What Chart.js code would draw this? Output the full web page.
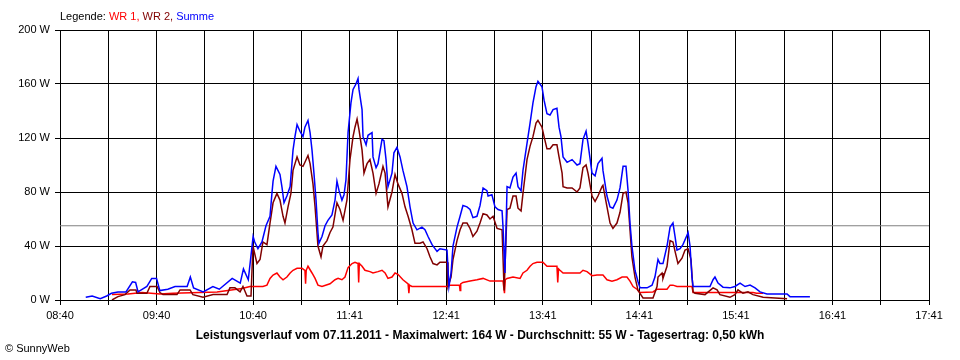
<!DOCTYPE html>
<html>
<head>
<meta charset="utf-8">
<script src="https://cdn.jsdelivr.net/npm/chart.js@4"></script>
<style>
  body { margin: 0; background: #fff; }
  #wrap { width: 960px; height: 360px; }
</style>
</head>
<body>
<div id="wrap"><canvas id="powerChart"></canvas></div>
<script>
// x = Minuten ab 08:40, y = Watt
const timeLabels = ['08:40', '09:40', '10:40', '11:41', '12:41', '13:41', '14:41', '15:41', '16:41', '17:41'];
const averageW = 55;

const summe = [
  [16,2],[20,3],[25,1],[29,3],[32,5],[36,6],[41,6],[45,13.5],[47,13],[48.5,6],[54,10],[57,16],[60,16],[62,7],
  [67,8],[71.5,10],[79,10],[81,17],[83,9],[89,6],[95,10],[99,8],[107,16],[112,12.5],[114,23],[117,15],
  [120,47],[121,43],[123,38],[125.5,43],[128,55],[130.5,62],[131.7,79],[132.4,88],[134.2,99],[136.7,93],
  [138,83],[139.2,72],[141,77],[143,84],[144.8,111],[146,121],[147.3,130],[149.1,125],[151,121],[152.2,128],
  [154.1,133],[155.4,124],[156.6,111],[157.8,94],[159.1,74],[160.3,50],[160.9,42],[162.8,47],[164.7,55],
  [166.5,59],[169,63],[170.9,74],[172.1,88],[173.4,81],[175.2,74],[176.5,78],[177.7,89],[179,124],[180.8,146],
  [182.1,156],[183.9,160],[185.2,164],[185.8,156],[187.7,141],[188.3,121],[190.2,115],[191.4,122],[193.9,124],
  [194.5,106],[196.4,98],[197.6,101],[200.1,119],[201.3,118],[202.6,104],[203.8,84],[206.3,94],[207.5,109],
  [209.4,113],[211.3,106],[213.1,96],[215.6,84],[217.5,69],[219.4,57],[221.8,52],[224.9,54],[226.8,52],
  [228.7,47],[231.2,41],[234.3,36],[236.1,38],[240.5,37],[241.7,10],[243,20],[244.2,40],[246.7,54],[248.6,62],
  [250.4,70],[252.9,69],[254.8,67],[256.6,61],[259.1,62],[261,70],[262.9,83],[265.3,81],[266,77],[268.4,78],
  [270.3,69],[272.2,67],[274.7,66],[275.3,54],[276.5,20],[277.8,84],[279.6,83],[281.5,91],[283.4,94],
  [284.6,84],[286.5,81],[287.7,96],[290.2,116],[292.1,131],[293.9,146],[295.8,158],[297,162],[299.5,158],
  [300.8,148],[302.6,138],[304.5,137],[306.4,141],[308.8,142],[310.1,128],[311.3,121],[312.6,106],[315.1,102],
  [318.2,104],[321.3,100],[323.1,101],[325,119],[326.9,125],[328.1,116],[330.6,94],[332.5,92],[334.3,101],
  [336.8,105],[337.4,96],[339.9,77],[341.8,69],[343.6,68],[346.1,74],[348,83],[349.9,99],[351.7,99],[353,81],
  [354.2,57],[355.4,40],[357.3,22],[359.2,13.5],[360.4,9],[364.8,9],[367.9,11],[369.7,17],[371.6,30],
  [372.8,27],[374.7,27],[377.2,40],[379.1,54],[380.9,57],[382.2,47],[383.4,37],[385.3,38],[387.1,41],
  [389.6,48],[390.3,50],[391.5,40],[392.7,17],[393.4,10],[403.9,10],[405.8,15],[407,17],[408.9,12.5],
  [412,9.5],[416.3,9],[419.4,10],[422.6,12.5],[425.7,10],[428.8,11],[431.9,9],[435,6],[439.3,4.5],
  [451.8,4.5],[453.6,2.5],[466,2.5]
];

const wr2 = [
  [32.3,0],[36,2.5],[40.4,4],[43.5,7.5],[47.2,7.5],[47.8,5],[54,5],[55.9,10],[60.3,10],[62.1,5.5],[64,4],
  [72.7,4],[74.6,7.5],[80.8,7.5],[82.6,4],[88.9,2],[95.1,4],[103.8,4],[105.6,9],[108.7,9],[111.9,6],
  [113.7,10],[116.2,3],[118.7,3],[119.9,40],[122.4,27],[124.3,30],[126.1,43],[128.6,41],[130.5,57],
  [132.4,72],[134.8,79],[136.7,74],[138.6,62],[139.8,57],[141.7,69],[143.5,79],[144.8,96],[147.3,106],
  [149.1,100],[151,99],[152.2,102],[154.1,107],[155.4,101],[157.2,86],[158.5,69],[160.3,40],[162.2,32],
  [163.4,40],[165.9,44],[167.8,50],[169.6,54],[172.1,72],[174,67],[175.9,59],[178.3,74],[180.2,104],
  [182.1,121],[183.3,128],[184.6,134],[185.8,126],[187.7,111],[188.9,94],[190.8,101],[192.6,104],[194.5,94],
  [196.4,79],[198.2,86],[200.7,99],[202,94],[203.8,69],[206.3,80],[208.2,93],[210,86],[212.5,79],[214.4,69],
  [216.3,62],[218.7,52],[220.6,42],[223.7,42],[225.6,43],[228.1,38],[229.9,32],[231.8,27],[234.3,26],
  [236.1,28],[240.5,28],[241.1,10],[243,17],[244.2,30],[246.7,44],[248.6,52],[250.4,57],[252.9,57],
  [254.8,53],[256.6,47],[259.1,51],[261,57],[262.9,64],[265.3,63],[267.2,60],[269.1,62],[271.6,53],
  [274.7,52],[276,7],[277.8,67],[279.6,68],[281.5,77],[283.4,77],[284.6,68],[286.5,66],[287.7,79],
  [290.2,104],[292.1,114],[293.9,121],[295.8,131],[297,133],[299.5,128],[300.8,121],[302.6,112],[304.5,112],
  [306.4,115],[308.8,115],[310.1,106],[312,94],[312.6,84],[315.1,83],[318.2,83],[321.3,80],[323.1,83],
  [325,98],[326.9,100],[328.1,94],[330.6,77],[332.5,73],[334.3,77],[336.8,84],[337.4,85],[339.9,69],
  [341.8,57],[343.6,53],[346.1,57],[348,65],[349.9,79],[351.7,80],[353,72],[354.2,52],[355.4,32],[357.3,17],
  [359.2,7],[362.3,1.5],[368.5,1.5],[371,10],[371.6,17],[374.1,20],[374.7,16],[377.2,25],[379.1,44],
  [380.9,43],[382.2,36],[384,27],[386.5,31],[388.4,37],[390.3,38],[392.1,30],[393.4,6],[394.6,5],[400.8,4],
  [405.8,9],[408.3,7.5],[410.1,4],[416.3,2],[419.4,4],[421.3,7.5],[424.4,5],[427.5,6],[430.6,4],[436.9,2],
  [451.8,1]
];

const wr1 = [
  [32.3,4],[42.3,4.5],[51,5.5],[62.1,4.5],[70.2,5],[97.6,6],[113.1,8.5],[118.1,10],[126.1,10],[128.6,11],
  [130.5,16],[132.4,18.5],[134.8,20],[136.7,17],[138.6,15],[141,17],[143,20],[144.8,22],[147.3,23.5],
  [150.4,23.5],[152.2,22],[152.6,12],[153,22],[154.1,25],[156.6,20],[158.5,16],[160.3,11],[162.8,10],
  [167.8,12],[170.9,15],[172.8,16],[175.2,15],[177.1,17],[179,24],[181.5,27],[183.3,28],[185.2,27],
  [185.6,13],[186,27],[187.7,25],[189.5,22],[192.6,21],[194.5,20],[197.6,21],[200.1,22],[202,20],
  [203.8,16],[206.3,17],[208.2,20],[210,19],[213.1,15],[216.3,12],[216.8,5],[217.2,11],[218.7,10],
  [240.5,10],[242.4,11],[248.2,11],[248.6,7],[249,12],[250.4,13],[254.8,14],[259.1,15],[262.9,16],
  [267.2,14],[275.3,14],[276.2,5],[276.7,15],[277.8,16],[281.5,17],[285.9,16],[287.7,20],[290.2,22],
  [292.1,25],[293.9,27],[296.4,28],[300.1,28],[302.6,25],[308.8,25],[309.3,13],[309.8,23],[310.7,22],
  [312.6,20],[323.1,20],[325,22],[327.5,21],[330.6,18],[333.7,18.5],[337.4,18.5],[339.9,15],[343,14],
  [346.1,15],[349.3,17],[352.3,17],[354.2,14],[356.1,10],[358.5,8],[360.4,5.5],[368.5,6],[371,8],
  [377.2,8],[379.1,11],[380.9,11],[383.4,10],[392.7,10],[393.4,5.5],[430.6,5.5],[432.9,5],[436.9,5]
];

const legendParts = [['Legende: ', '#000000'], ['WR 1, ', '#ff0000'], ['WR 2, ', '#800000'], ['Summe', '#0000ff']];
const titleText = 'Leistungsverlauf vom 07.11.2011 - Maximalwert: 164 W - Durchschnitt: 55 W - Tagesertrag: 0,50 kWh';
const copyText = '\u00a9 SunnyWeb';

function toXY(list) {
  return list.map(p => ({ x: p[0], y: p[1] }));
}

const textPlugin = {
  id: 'texts',
  afterDraw(chart) {
    const c = chart.ctx;
    c.save();
    c.textBaseline = 'middle';
    c.font = '11px "Liberation Sans"';
    let x = 60;
    legendParts.forEach(([t, col]) => {
      c.fillStyle = col;
      c.fillText(t, x, 17);
      x += c.measureText(t).width;
    });
    c.fillStyle = '#000';
    c.fillText(copyText, 5, 349);
    c.font = 'bold 12px "Liberation Sans"';
    c.textAlign = 'center';
    c.fillText(titleText, 480, 336);
    c.restore();
  }
};

Chart.defaults.font.family = 'Liberation Sans';
Chart.defaults.font.size = 11;
Chart.defaults.color = '#000';

const ctx = document.getElementById('powerChart').getContext('2d');
new Chart(ctx, {
  type: 'line',
  data: {
    datasets: [
      { label: 'Summe', data: toXY(summe), borderColor: '#0000ff', borderWidth: 1.5 },
      { label: 'WR 2', data: toXY(wr2), borderColor: '#800000', borderWidth: 1.5 },
      { label: 'WR 1', data: toXY(wr1), borderColor: '#ff0000', borderWidth: 1.5 },
      { label: 'Durchschnitt', data: [{ x: 0, y: averageW }, { x: 540, y: averageW }], borderColor: '#808080', borderWidth: 1 }
    ]
  },
  options: {
    responsive: true,
    maintainAspectRatio: false,
    animation: false,
    elements: { point: { radius: 0 }, line: { tension: 0 } },
    layout: { padding: { top: 30, right: 31, left: 0, bottom: 0 } },
    plugins: { legend: { display: false }, tooltip: { enabled: false } },
    scales: {
      x: {
        type: 'linear',
        min: 0,
        max: 540,
        afterFit: s => { s.height = 60; },
        grid: { color: '#000', tickLength: 5 },
        border: { color: '#000' },
        ticks: {
          stepSize: 30,
          autoSkip: false,
          maxRotation: 0,
          padding: 4,
          callback: v => (v % 60 === 0 ? timeLabels[v / 60] : '')
        }
      },
      y: {
        min: 0,
        max: 200,
        afterFit: s => { s.width = 60; },
        grid: { color: '#000', tickLength: 5 },
        border: { color: '#000' },
        ticks: {
          stepSize: 40,
          padding: 5,
          callback: v => v + ' W'
        }
      }
    }
  },
  plugins: [textPlugin]
});
</script>
</body>
</html>
